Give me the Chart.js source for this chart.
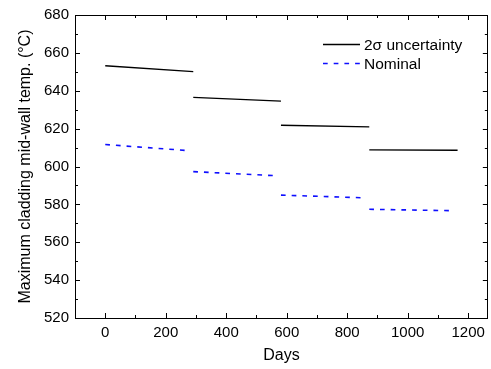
<!DOCTYPE html>
<html>
<head>
<meta charset="utf-8">
<script src="https://cdn.jsdelivr.net/npm/chart.js@4.4.0/dist/chart.umd.min.js"></script>
<style>
  html, body { margin: 0; padding: 0; background: #fff; }
  canvas { display: block; }
</style>
</head>
<body>
<canvas id="chart" width="491" height="369"></canvas>
<script>
// Cladding mid-wall temperature per irradiation cycle, two series.
const cycleStart   = [0, 291, 581, 873];
const cycleEnd     = [291, 581, 873, 1165];
const nominalEnd   = [265, 555, 847, 1139];
const uncStartTemp = [653.2, 636.5, 621.8, 608.8];
const uncEndTemp   = [650.1, 634.5, 620.9, 608.6];
const nomStartTemp = [611.6, 597.3, 584.9, 577.4];
const nomEndTemp   = [608.5, 595.2, 583.5, 576.7];

const xTicks = [0, 200, 400, 600, 800, 1000, 1200];
const yTicks = [520, 540, 560, 580, 600, 620, 640, 660, 680];

const FONT = "'Liberation Sans', Arial, sans-serif";

// one dataset per series, segments split by null points
function segments(starts, ends, y0, y1) {
  const pts = [];
  starts.forEach((s, i) => {
    pts.push({ x: s, y: y0[i] });
    pts.push({ x: ends[i], y: y1[i] });
    if (i < starts.length - 1) pts.push({ x: (ends[i] + starts[i + 1]) / 2, y: null });
  });
  return pts;
}

const series = [
  { label: "2\u03c3 uncertainty", color: "#000000", width: 1.4, dash: [],
    data: segments(cycleStart, cycleEnd, uncStartTemp, uncEndTemp) },
  { label: "Nominal", color: "#0f0fff", width: 1.6, dash: [4.7, 6],
    data: segments(cycleStart, nominalEnd, nomStartTemp, nomEndTemp) },
];

// frame, inward ticks and in-plot legend (Origin style)
const framePlugin = {
  id: "frame",
  afterDraw(c) {
    const ctx = c.ctx, a = c.chartArea;
    const xs = c.scales.x, ys = c.scales.y;
    ctx.save();
    ctx.strokeStyle = "#000";
    ctx.lineWidth = 1;
    ctx.strokeRect(Math.round(a.left) + 0.5, Math.round(a.top) + 0.5,
                   Math.round(a.right - a.left) - 1, Math.round(a.bottom - a.top));
    ctx.beginPath();
    for (let v = -100; v <= 1260; v += 100) {
      const px = Math.round(xs.getPixelForValue(v)) + 0.5;
      const len = v % 200 === 0 ? 5 : 3;
      ctx.moveTo(px, a.bottom); ctx.lineTo(px, a.bottom - len);
      ctx.moveTo(px, a.top); ctx.lineTo(px, a.top + len);
    }
    for (let v = 520; v <= 680; v += 10) {
      const py = Math.round(ys.getPixelForValue(v)) + 0.5;
      const len = v % 20 === 0 ? 5 : 3;
      ctx.moveTo(a.left, py); ctx.lineTo(a.left + len, py);
      ctx.moveTo(a.right, py); ctx.lineTo(a.right - len, py);
    }
    ctx.stroke();

    // legend
    ctx.font = "15.5px " + FONT;
    ctx.textBaseline = "middle";
    ctx.fillStyle = "#000";
    series.forEach((s, i) => {
      const y = 44.5 + i * 19;
      ctx.beginPath();
      ctx.strokeStyle = s.color;
      ctx.lineWidth = s.width;
      ctx.setLineDash(s.dash);
      ctx.moveTo(323, y); ctx.lineTo(360, y);
      ctx.stroke();
      ctx.setLineDash([]);
      ctx.fillText(s.label, 364, y + 1);
    });
    ctx.restore();
  }
};

new Chart(document.getElementById("chart"), {
  type: "line",
  data: {
    datasets: series.map(s => ({
      label: s.label,
      data: s.data,
      borderColor: s.color,
      borderWidth: s.width,
      borderDash: s.dash,
      pointRadius: 0,
      fill: false,
      spanGaps: false,
      tension: 0,
    })),
  },
  options: {
    responsive: false,
    animation: false,
    layout: { padding: { top: 13, right: 3, left: 0, bottom: 0 } },
    plugins: { legend: { display: false }, tooltip: { enabled: false } },
    scales: {
      x: {
        type: "linear",
        min: -100,
        max: 1265,
        afterBuildTicks: s => { s.ticks = xTicks.map(v => ({ value: v })); },
        afterFit: s => { s.height = 51; },
        grid: { display: false, drawTicks: false },
        border: { display: false },
        ticks: { color: "#000", padding: 6, maxRotation: 0, callback: v => String(v),
                 font: { family: FONT, size: 15 } },
        title: { display: true, text: "Days", color: "#000", padding: { top: 8 },
                 font: { family: FONT, size: 16 } },
      },
      y: {
        type: "linear",
        min: 520,
        max: 680,
        afterBuildTicks: s => { s.ticks = yTicks.map(v => ({ value: v })); },
        afterFit: s => { s.width = 75; },
        grid: { display: false, drawTicks: false },
        border: { display: false },
        ticks: { color: "#000", padding: 6, font: { family: FONT, size: 15 } },
        title: { display: true, text: "Maximum cladding mid-wall temp. (\u00b0C)", color: "#000",
                 padding: { top: 16 }, font: { family: FONT, size: 16 } },
      },
    },
  },
  plugins: [framePlugin],
});
</script>
</body>
</html>
